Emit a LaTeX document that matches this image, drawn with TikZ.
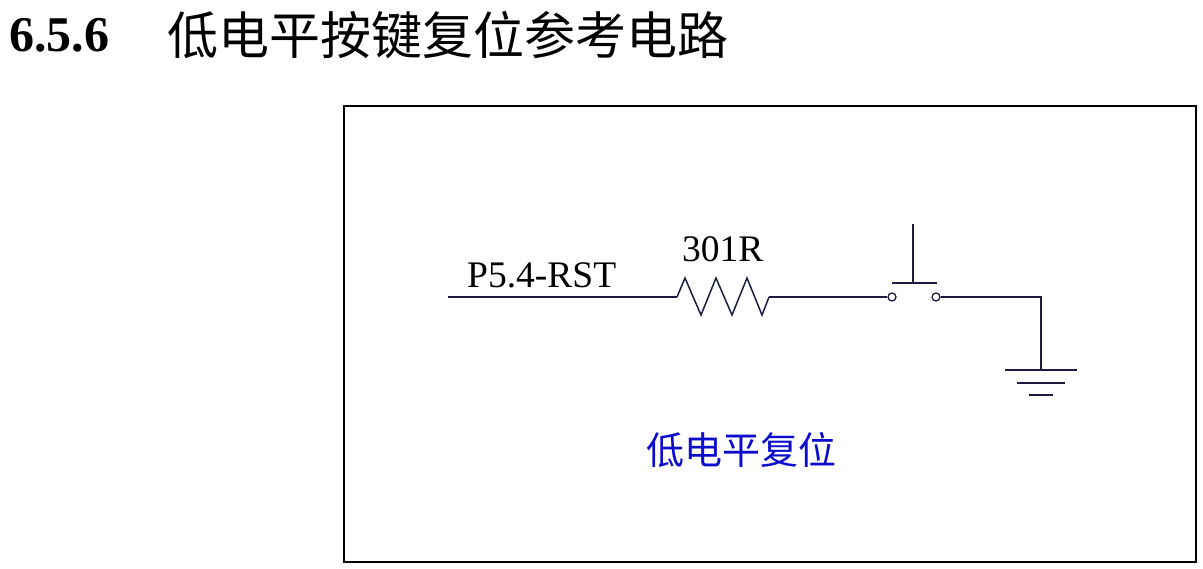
\documentclass[tikz,border=0pt]{standalone}
\usepackage{fontspec}
\setmainfont{Liberation Serif}
\newfontfamily\cjk{Noto Sans CJK SC}
\usepackage{xcolor}
\usepackage{tikz}
\usetikzlibrary{positioning}

\definecolor{capblue}{RGB}{12,12,205}
\definecolor{wirenavy}{RGB}{28,28,66}

\begin{document}
\begin{tikzpicture}[
  x=1pt, y=-1pt,
  wire/.style={draw=wirenavy, line width=1.5pt},
  contact/.style={draw=wirenavy, circle, line width=1.3pt, inner sep=0pt, minimum size=8pt, fill=white},
  label/.style={inner sep=0pt, font=\fontsize{37.5}{40}\selectfont},
  frame/.style={draw, line width=2pt}
]
\useasboundingbox (0,0) rectangle (1203,569);

% heading
\node[inner sep=0pt, anchor=base west, font=\fontsize{50}{56}\selectfont\bfseries] (secnum) at (9,52) {6.5.6};
\node[inner sep=0pt, anchor=west, font=\fontsize{51}{56}\selectfont\cjk] (title) at (167,35) {低电平按键复位参考电路};

% frame
\draw[frame] (343.5,106.5) rectangle (1196,562);

% circuit points
\coordinate (pin) at (448,297);
\coordinate (rin) at (677,297);
\coordinate (rout) at (769,297);
\coordinate (corner) at (1041,297);
\coordinate (gnd) at (1041,370);

\node[label, anchor=base west] (pinlabel) at (467,288) {P5.4-RST};
\node[label, anchor=base west] (rlabel) at (682,262) {301R};

\node[contact] (swa) at (892,297) {};
\node[contact] (swb) at (936,297) {};

% wires
\draw[wire] (pin) -- (rin);
\draw[wire, line join=miter] (rin) -- (685,278) -- (701,315) -- (716,278) -- (732,315)
  -- (747,278) -- (762,315) -- (rout);
\draw[wire] (rout) -- (swa);
\draw[wire] (swb) -- (corner) -- (gnd);

% push button
\draw[wire] (892,283) -- (937,283);
\draw[wire] (913,224) -- (913,283);

% ground
\draw[wire] ([xshift=-36pt]gnd) -- ([xshift=36pt]gnd);
\draw[wire] ([xshift=-24pt,yshift=-13pt]gnd) -- ([xshift=24pt,yshift=-13pt]gnd);
\draw[wire] ([xshift=-12pt,yshift=-25pt]gnd) -- ([xshift=12pt,yshift=-25pt]gnd);

\node[inner sep=0pt, text=capblue, font=\fontsize{38}{42}\selectfont\cjk] (caption) at (741,450) {低电平复位};
\end{tikzpicture}
\end{document}
